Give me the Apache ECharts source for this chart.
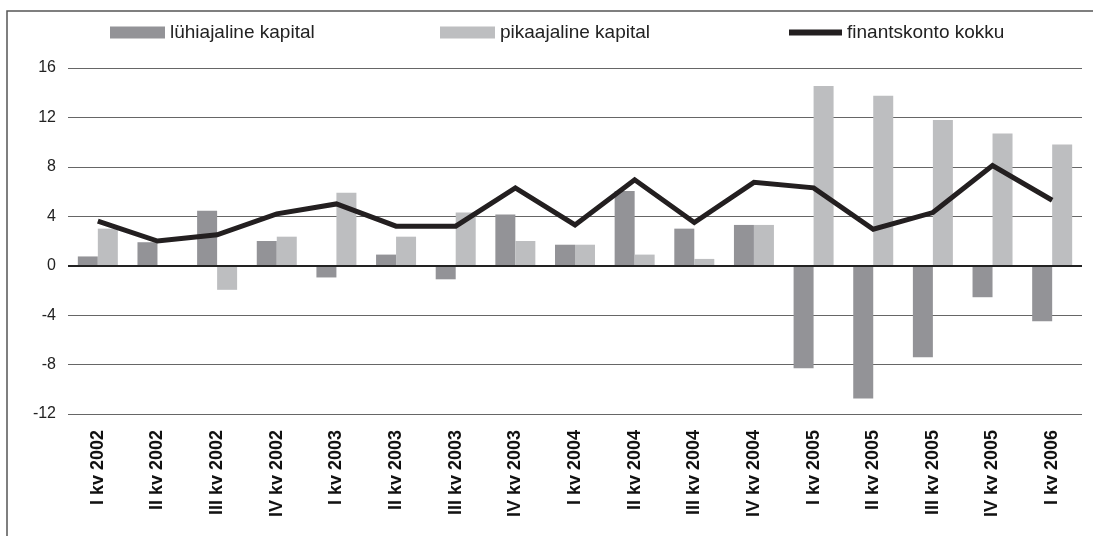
<!DOCTYPE html>
<html>
<head>
<meta charset="utf-8">
<script src="https://cdn.jsdelivr.net/npm/echarts@6/dist/echarts.min.js"></script>
<style>
  html, body { margin: 0; padding: 0; background: #fff; }
  #chart { width: 1093px; height: 536px; }
</style>
</head>
<body>
<div id="chart"></div>
<script>
// kvartalid
const categories = [
  'I kv 2002', 'II kv 2002', 'III kv 2002', 'IV kv 2002',
  'I kv 2003', 'II kv 2003', 'III kv 2003', 'IV kv 2003',
  'I kv 2004', 'II kv 2004', 'III kv 2004', 'IV kv 2004',
  'I kv 2005', 'II kv 2005', 'III kv 2005', 'IV kv 2005',
  'I kv 2006'
];
const shortTerm = [0.75, 1.9, 4.45, 2.0, -0.95, 0.9, -1.1, 4.15, 1.7, 6.05, 3.0, 3.3, -8.3, -10.75, -7.4, -2.55, -4.5];
const longTerm = [3.0, 0, -1.95, 2.35, 5.9, 2.35, 4.3, 2.0, 1.7, 0.9, 0.55, 3.3, 14.55, 13.75, 11.8, 10.7, 9.8];
const total = [3.6, 2.0, 2.5, 4.2, 5.0, 3.2, 3.2, 6.3, 3.3, 6.95, 3.5, 6.75, 6.3, 2.95, 4.3, 8.1, 5.3];
const seriesNames = ['lühiajaline kapital', 'pikaajaline kapital', 'finantskonto kokku'];

const font = 'Liberation Sans, Arial, sans-serif';
const chart = echarts.init(document.getElementById('chart'));

const legendText = { color: '#222', fontSize: 19, fontFamily: font };

const option = {
  animation: false,
  graphic: [
    {
      type: 'rect',
      shape: { x: 7, y: 11, width: 1200, height: 700 },
      style: { fill: 'none', stroke: '#555', lineWidth: 1.5 },
      silent: true,
    },
  ],
  legend: [
    {
      left: 105, top: 18, data: [seriesNames[0]], icon: 'rect',
      itemWidth: 55, itemHeight: 12, itemGap: 0, textStyle: legendText,
    },
    {
      left: 435, top: 18, data: [seriesNames[1]], icon: 'rect',
      itemWidth: 55, itemHeight: 12, itemGap: 0, textStyle: legendText,
    },
    {
      left: 784, top: 18, data: [seriesNames[2]], icon: 'rect',
      itemWidth: 53, itemHeight: 6, itemGap: 0, textStyle: legendText,
    },
  ],
  grid: { left: 68, right: 11, top: 68, bottom: 122 },
  xAxis: {
    type: 'category',
    data: categories,
    axisLine: { show: false, onZero: false },
    axisTick: { show: false },
    axisLabel: {
      rotate: 90,
      margin: 16,
      color: '#111',
      fontSize: 18,
      fontWeight: 'bold',
      fontFamily: font,
    },
  },
  yAxis: {
    type: 'value',
    min: -12,
    max: 16,
    interval: 4,
    axisLine: { show: false },
    axisTick: { show: false },
    axisLabel: { color: '#222', fontSize: 16, fontFamily: font, margin: 12 },
    splitLine: { lineStyle: { color: '#666', width: 1 } },
  },
  series: [
    {
      name: seriesNames[0],
      type: 'bar',
      data: shortTerm,
      barWidth: 20,
      barGap: '0%',
      itemStyle: { color: '#939397' },
      markLine: {
        silent: true,
        symbol: 'none',
        label: { show: false },
        lineStyle: { color: '#222', width: 2, type: 'solid' },
        data: [{ yAxis: 0 }],
      },
    },
    {
      name: seriesNames[1],
      type: 'bar',
      data: longTerm,
      barWidth: 20,
      barGap: '0%',
      itemStyle: { color: '#bdbec0' },
    },
    {
      name: seriesNames[2],
      type: 'line',
      data: total,
      symbol: 'none',
      z: 5,
      itemStyle: { color: '#231f20' },
      lineStyle: { color: '#231f20', width: 5, join: 'miter' },
    },
  ],
};

chart.setOption(option);
</script>
</body>
</html>
